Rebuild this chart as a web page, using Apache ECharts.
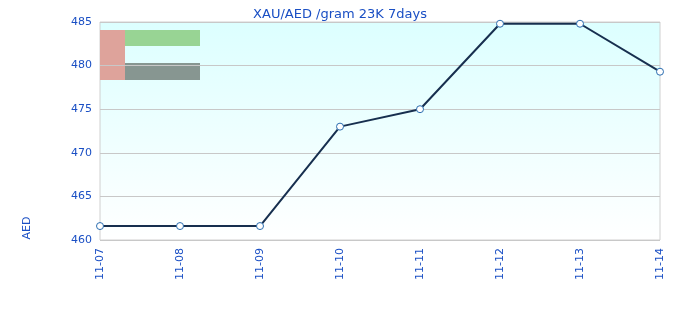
<!DOCTYPE html>
<html><head><meta charset="utf-8">
<script src="https://cdn.jsdelivr.net/npm/echarts@6/dist/echarts.min.js"></script>
<style>html,body{margin:0;padding:0;background:#fff}#c{width:680px;height:320px}</style>
</head><body><div id="c"></div>
<script>
const categories = ['11-07','11-08','11-09','11-10','11-11','11-12','11-13','11-14'];
const prices = [461.6, 461.6, 461.6, 473.0, 475.0, 484.8, 484.8, 479.3];
const yTicks = [460, 465, 470, 475, 480, 485];
const titleText = 'XAU/AED /gram 23K 7days';
const yName = 'AED';

const blue = '#1a4fc4';
const chart = echarts.init(document.getElementById('c'), null, {renderer:'canvas'});
chart.setOption({
  animation:false,
  title:{text:titleText,left:'center',top:3,textStyle:{color:blue,fontSize:13,fontWeight:'normal',fontFamily:'DejaVu Sans'}},
  grid:{left:100,right:20,top:22,bottom:80,show:true,borderColor:'#d0d0d0',borderWidth:1,
    backgroundColor:new echarts.graphic.LinearGradient(0,0,0,1,[{offset:0,color:'#dcffff'},{offset:1,color:'#ffffff'}])},
  xAxis:{type:'category',data:categories,boundaryGap:false,
    axisLine:{show:false},axisTick:{show:false},
    axisLabel:{color:blue,fontSize:11,rotate:90,margin:8,fontFamily:'DejaVu Sans'},
    splitLine:{show:false}},
  yAxis:{type:'value',min:yTicks[0],max:yTicks[yTicks.length-1],interval:5,
    axisLine:{show:false},axisTick:{show:false},
    axisLabel:{color:blue,fontSize:11,margin:8,fontFamily:'DejaVu Sans'},
    splitLine:{lineStyle:{color:'#c8c8c8'}}},
  graphic:[
    {type:'rect',shape:{x:100,y:30,width:25,height:50},style:{fill:'#dea39b'}},
    {type:'rect',shape:{x:125,y:30,width:75,height:16},style:{fill:'#98d494'}},
    {type:'rect',shape:{x:125,y:63,width:75,height:17},style:{fill:'#879691'}},
    {type:'text',x:27,y:228,rotation:Math.PI/2,style:{text:yName,fill:blue,fontSize:11,fontFamily:'DejaVu Sans',align:'center',verticalAlign:'middle'}}
  ],
  series:[{type:'line',data:prices,symbol:'circle',symbolSize:7,
    lineStyle:{color:'#172f4f',width:2},
    itemStyle:{color:'#ffffff',borderColor:'#2a6db0',borderWidth:1}}]
});
</script></body></html>
